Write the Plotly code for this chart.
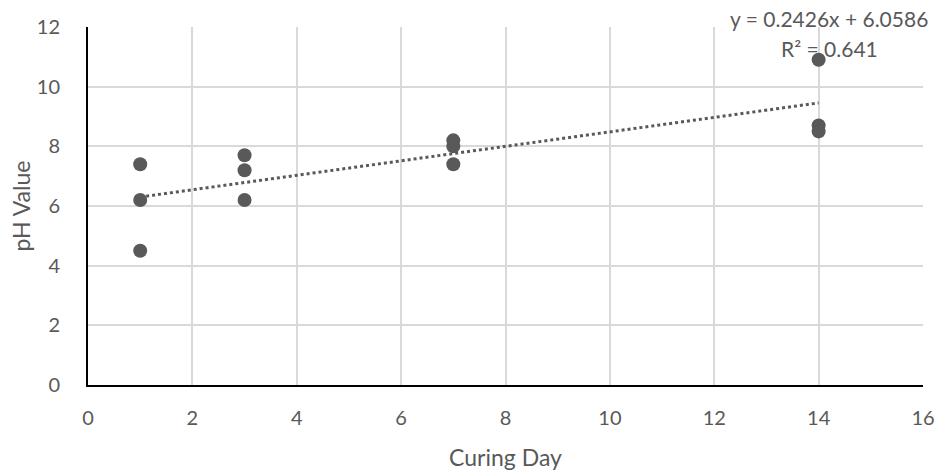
import numpy as np
import plotly.graph_objects as go

curing_day = [1, 1, 1, 3, 3, 3, 7, 7, 7, 14, 14, 14]
ph_value = [7.4, 6.2, 4.5, 7.7, 7.2, 6.2, 8.2, 8.0, 7.4, 10.9, 8.7, 8.5]

x = np.array(curing_day, dtype=float)
y = np.array(ph_value, dtype=float)
slope, intercept = np.polyfit(x, y, 1)
pred = slope * x + intercept
r2 = 1 - np.sum((y - pred) ** 2) / np.sum((y - y.mean()) ** 2)
xt = np.array([x.min(), x.max()])
yt = slope * xt + intercept

font = "Lato, 'Open Sans', sans-serif"
grey = "#595959"

fig = go.Figure()
fig.add_trace(go.Scatter(x=xt, y=yt, mode="lines",
                         line=dict(color=grey, width=3, dash="dot"),
                         hoverinfo="skip", showlegend=False))
fig.add_trace(go.Scatter(x=curing_day, y=ph_value, mode="markers",
                         marker=dict(color=grey, size=14),
                         showlegend=False))

fig.add_annotation(x=14.2, y=12, xref="x", yref="y", yshift=9,
                   text=f"y = {slope:.4f}x + {intercept:.4f}",
                   showarrow=False, yanchor="middle",
                   font=dict(family=font, size=21, color=grey))
fig.add_annotation(x=14.2, y=12, xref="x", yref="y", yshift=-21,
                   text=f"R² = {r2:.3f}",
                   showarrow=False, yanchor="middle",
                   font=dict(family=font, size=21, color=grey))

fig.update_layout(
    width=939, height=473,
    margin=dict(l=88, r=16, t=27, b=88),
    paper_bgcolor="white", plot_bgcolor="white",
    font=dict(family=font, size=20, color=grey),
    xaxis=dict(range=[0, 16], dtick=2, showgrid=True, gridcolor="#d9d9d9", gridwidth=2,
               showline=True, linecolor="black", linewidth=2, zeroline=False,
               ticks="", ticklabelstandoff=14, automargin=False,
               title=dict(text="Curing Day", font=dict(size=23, color=grey), standoff=22)),
    yaxis=dict(range=[0, 12], dtick=2, showgrid=True, gridcolor="#d9d9d9", gridwidth=2,
               showline=True, linecolor="black", linewidth=2, zeroline=False,
               ticks="", ticklabelstandoff=22, automargin=False,
               title=dict(text="pH Value", font=dict(size=23, color=grey), standoff=0)),
)
fig.write_html("out.html")
